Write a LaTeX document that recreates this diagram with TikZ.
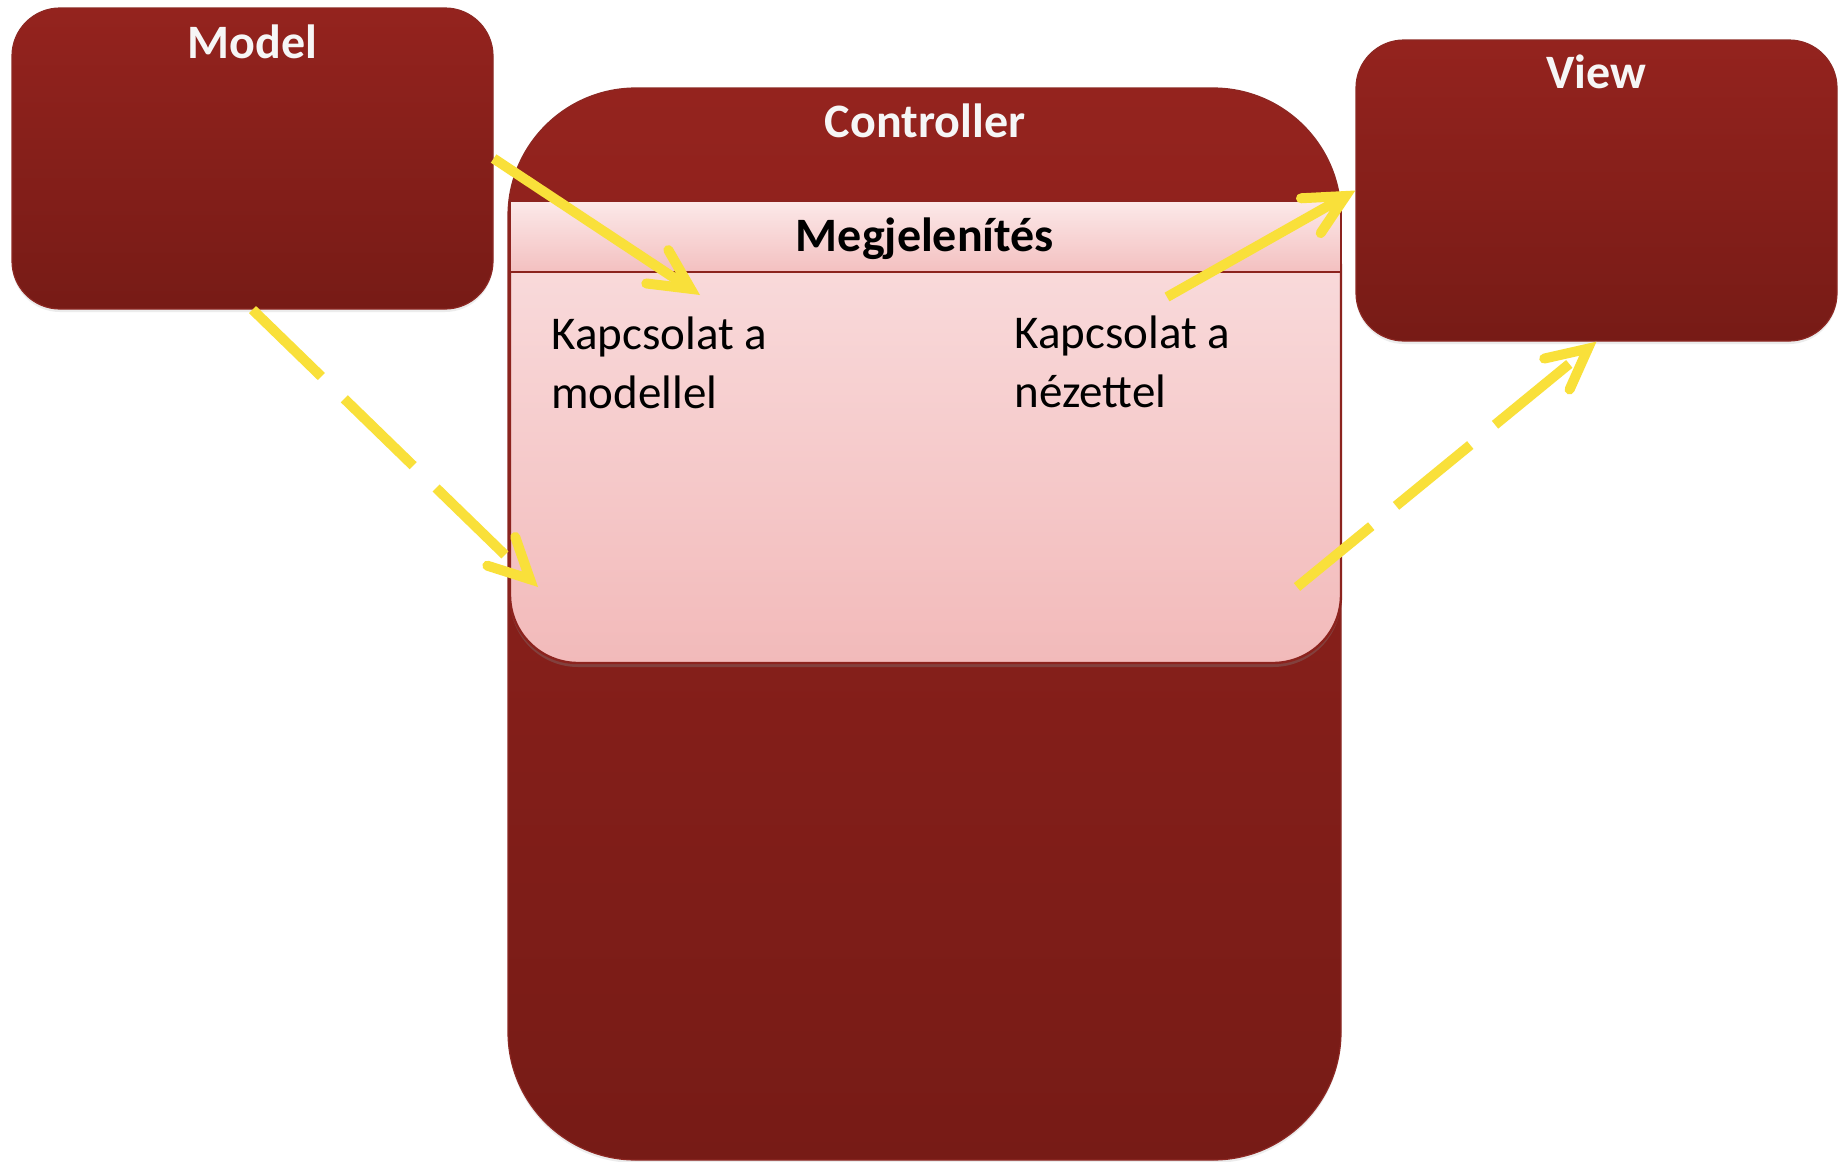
\documentclass[tikz,border=0pt]{standalone}
\usepackage{fontspec}
\setmainfont{Carlito}
\usetikzlibrary{arrows.meta,shadows}
\definecolor{redtop}{RGB}{148,35,30}
\definecolor{redbot}{RGB}{119,27,22}
\definecolor{redline}{RGB}{140,40,35}
\definecolor{pinkA}{RGB}{252,233,233}
\definecolor{pinkB}{RGB}{243,192,192}
\definecolor{pinkC}{RGB}{250,223,224}
\definecolor{pinkD}{RGB}{242,186,186}
\definecolor{pinkline}{RGB}{140,35,30}
\definecolor{arrowyellow}{RGB}{249,224,58}
\definecolor{titlewhite}{RGB}{246,246,246}
\begin{document}
\begin{tikzpicture}[x=0.5pt,y=-0.5pt,
  redbox/.style={draw=redline, line width=0.6pt, top color=redtop, bottom color=redbot, inner sep=0pt,
     drop shadow={shadow xshift=0pt, shadow yshift=-1.5pt, opacity=0.15}},
  pinkbody/.style={draw=pinkline, line width=1.2pt, top color=pinkC, bottom color=pinkD, inner sep=0pt,
     rounded corners=34pt, drop shadow={shadow xshift=0pt, shadow yshift=-2pt, opacity=0.35}},
  pinkband/.style={draw=pinkline, line width=1.2pt, top color=pinkA, bottom color=pinkB, inner sep=0pt},
  title/.style={font=\bfseries\fontsize{24}{28}\selectfont, text=titlewhite, inner sep=0pt, anchor=base},
  subtitle/.style={font=\bfseries\fontsize{24}{28}\selectfont, text=black, inner sep=0pt, anchor=base},
  bodytext/.style={font=\fontsize{23.5}{29.5}\selectfont, text=black, inner sep=0pt, anchor=base west},
  conn/.style={draw=arrowyellow, line width=5pt,
     -{Straight Barb[length=20pt, width=20pt, line cap=round, line join=miter]}},
  dashconn/.style={conn, dash pattern=on 48pt off 16pt}
]
\useasboundingbox (0,0) rectangle (1843,1162);
\fill[white] (0,0) rectangle (1843,1162);

% Controller
\node[redbox, rounded corners=64pt, minimum width=416.5pt, minimum height=536pt] (controller) at (924.5,624) {};
\node[title] (controllertitle) at (925,137) {Controller};

% Megjelenites panel
\node[pinkbody, minimum width=415.5pt, minimum height=231pt] (presbody) at (925.5,432) {};
\node[pinkband, minimum width=415.5pt, minimum height=35.5pt] (pres) at (925.5,236.5) {};
\node[subtitle] (prestitle) at (925,251) {Megjelenítés};

\node[bodytext] (kapmodel) at (551,349) {\vtop{\baselineskip=29.5pt\hbox{Kapcsolat a}\hbox{modellel}}};
\node[bodytext] (kapview) at (1014,348) {\vtop{\baselineskip=29.5pt\hbox{Kapcsolat a}\hbox{nézettel}}};

% Model and View
\node[redbox, rounded corners=24pt, minimum width=240.5pt, minimum height=150.5pt] (model) at (252.5,158.5) {};
\node[title] (modeltitle) at (252.5,58) {Model};
\node[redbox, rounded corners=24pt, minimum width=240.5pt, minimum height=150.5pt] (view) at (1596.5,190.5) {};
\node[title] (viewtitle) at (1596.5,88) {View};

% Connectors
\coordinate (a1end) at (700,295);
\coordinate (a2start) at (1167,297);
\coordinate (a3end) at (538,587);
\coordinate (a4start) at (1297,587);
\draw[conn] (model.east) -- (a1end);
\draw[conn] (a2start) -- (view.west);
\draw[dashconn] (model.south) -- (a3end);
\draw[dashconn] (a4start) -- (view.south);
\end{tikzpicture}
\end{document}
